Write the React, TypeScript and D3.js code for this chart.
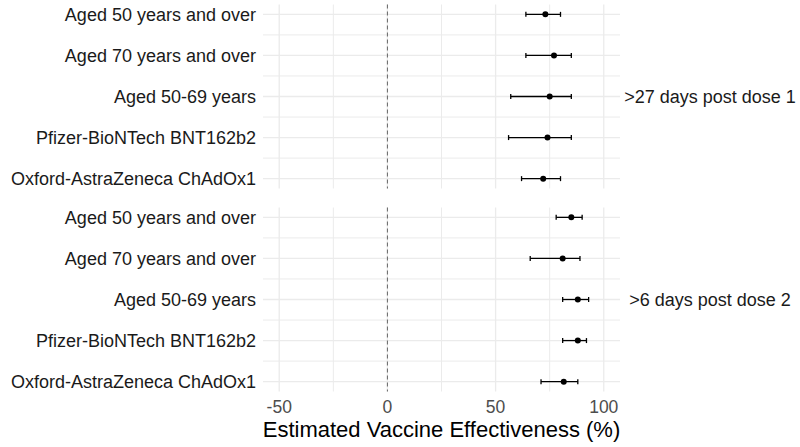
import React from "react";
import * as d3 from "d3";

const categories = [
  "Aged 50 years and over",
  "Aged 70 years and over",
  "Aged 50-69 years",
  "Pfizer-BioNTech BNT162b2",
  "Oxford-AstraZeneca ChAdOx1",
];
const panelLabels = [">27 days post dose 1", ">6 days post dose 2"];
const dose1Est = [73, 77, 75, 74, 72];
const dose1Low = [64, 64, 57, 56, 62];
const dose1High = [80, 85, 85, 85, 80];
const dose2Est = [85, 81, 88, 88, 81.5];
const dose2Low = [78, 66, 81, 81, 71];
const dose2High = [90, 89, 93, 92, 88];
const majorTicks = [-50, 0, 50, 100];
const minorTicks = [-25, 25, 75];
const xTitle = "Estimated Vaccine Effectiveness (%)";

const W = 800;
const H = 447;
const FONT = "'Liberation Sans', Arial, sans-serif";

export default function App() {
  const x = d3.scaleLinear().domain([-57.5, 107.5]).range([263, 620]);
  const panelTops = [4.5, 207.5];
  const panelH = 184;
  const panels = [
    { est: dose1Est, low: dose1Low, high: dose1High },
    { est: dose2Est, low: dose2Low, high: dose2High },
  ];
  const grid = "#ebebeb";

  return (
    <svg
      width={W}
      height={H}
      style={{ position: "absolute", left: 0, top: 0, background: "#fff" }}
      fontFamily={FONT}
    >
      {panels.map((p, pi) => {
        const top = panelTops[pi];
        const y = d3
          .scalePoint<string>()
          .domain(categories)
          .range([top, top + panelH])
          .padding(0.24);
        const step = y.step();
        return (
          <g key={pi}>
            {categories.slice(0, -1).map((c, i) => (
              <line
                key={"hm" + i}
                x1={x.range()[0]}
                x2={x.range()[1]}
                y1={(y(c) as number) + step / 2}
                y2={(y(c) as number) + step / 2}
                stroke={grid}
                strokeWidth={1}
              />
            ))}
            {minorTicks.map((t) => (
              <line
                key={"vm" + t}
                x1={x(t)}
                x2={x(t)}
                y1={top}
                y2={top + panelH}
                stroke={grid}
                strokeWidth={1}
              />
            ))}
            {majorTicks.map((t) => (
              <line
                key={"vM" + t}
                x1={x(t)}
                x2={x(t)}
                y1={top}
                y2={top + panelH}
                stroke={grid}
                strokeWidth={1.3}
              />
            ))}
            {categories.map((c) => (
              <line
                key={"hM" + c}
                x1={x.range()[0]}
                x2={x.range()[1]}
                y1={y(c)}
                y2={y(c)}
                stroke={grid}
                strokeWidth={1.3}
              />
            ))}
            <line
              x1={x(0)}
              x2={x(0)}
              y1={top}
              y2={top + panelH}
              stroke="#666"
              strokeWidth={1}
              strokeDasharray="4 3"
            />
            {categories.map((c) => (
              <text
                key={"yl" + c}
                x={256}
                y={y(c)}
                dy="0.35em"
                textAnchor="end"
                fontSize={18}
                fill="#1a1a1a"
              >
                {c}
              </text>
            ))}
            {categories.map((c, i) => {
              const cy = y(c) as number;
              return (
                <g key={"pt" + c}>
                  <line
                    x1={x(p.low[i])}
                    x2={x(p.high[i])}
                    y1={cy}
                    y2={cy}
                    stroke="#000"
                    strokeWidth={1.3}
                  />
                  <line
                    x1={x(p.low[i])}
                    x2={x(p.low[i])}
                    y1={cy - 2.5}
                    y2={cy + 2.5}
                    stroke="#000"
                    strokeWidth={1.3}
                  />
                  <line
                    x1={x(p.high[i])}
                    x2={x(p.high[i])}
                    y1={cy - 2.5}
                    y2={cy + 2.5}
                    stroke="#000"
                    strokeWidth={1.3}
                  />
                  <circle cx={x(p.est[i])} cy={cy} r={3} fill="#000" />
                </g>
              );
            })}
            <text
              x={710}
              y={top + panelH / 2}
              dy="0.35em"
              textAnchor="middle"
              fontSize={18}
              fill="#1a1a1a"
            >
              {panelLabels[pi]}
            </text>
          </g>
        );
      })}
      {majorTicks.map((t) => (
        <text
          key={"xt" + t}
          x={x(t)}
          y={413}
          textAnchor="middle"
          fontSize={17.5}
          fill="#4d4d4d"
        >
          {t}
        </text>
      ))}
      <text
        x={(x.range()[0] + x.range()[1]) / 2}
        y={437}
        textAnchor="middle"
        fontSize={22}
        fill="#000"
      >
        {xTitle}
      </text>
    </svg>
  );
}
